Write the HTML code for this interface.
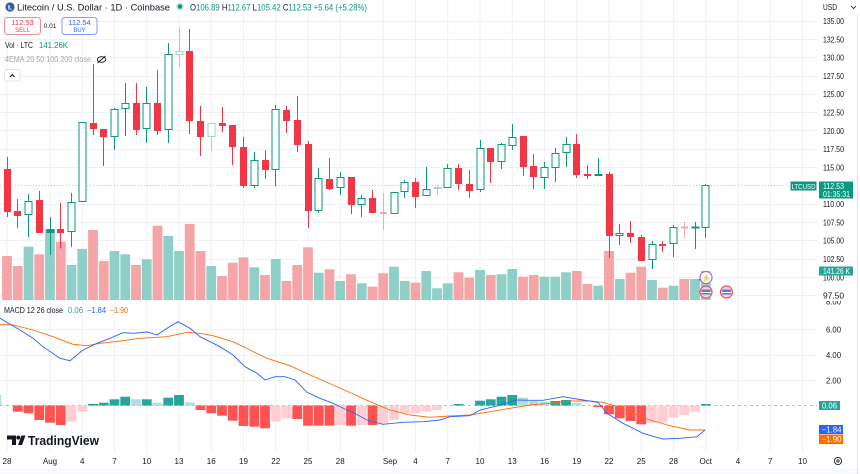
<!DOCTYPE html>
<html><head><meta charset="utf-8"><style>
html,body{margin:0;padding:0;background:#fff;}
body{width:860px;height:474px;overflow:hidden;}
svg{display:block;font-family:"Liberation Sans",sans-serif;}
</style></head><body>
<svg width="860" height="474" viewBox="0 0 860 474" xmlns="http://www.w3.org/2000/svg">
<defs><clipPath id="mp"><rect x="780" y="301" width="80" height="20"/></clipPath></defs>
<rect x="0" y="0" width="860" height="474" fill="#fff"/>
<rect x="0" y="468" width="860" height="6" fill="#f8f9fd"/>
<!-- vertical grid -->
<g stroke="#eff1f6" stroke-width="1">
<line x1="7" y1="0" x2="7" y2="453"/><line x1="50" y1="0" x2="50" y2="453"/><line x1="82.25" y1="0" x2="82.25" y2="453"/><line x1="114.5" y1="0" x2="114.5" y2="453"/><line x1="146.75" y1="0" x2="146.75" y2="453"/><line x1="179" y1="0" x2="179" y2="453"/><line x1="211.25" y1="0" x2="211.25" y2="453"/><line x1="243.5" y1="0" x2="243.5" y2="453"/><line x1="275.75" y1="0" x2="275.75" y2="453"/><line x1="308" y1="0" x2="308" y2="453"/><line x1="340.25" y1="0" x2="340.25" y2="453"/><line x1="383.25" y1="0" x2="383.25" y2="453"/><line x1="415.5" y1="0" x2="415.5" y2="453"/><line x1="447.75" y1="0" x2="447.75" y2="453"/><line x1="480" y1="0" x2="480" y2="453"/><line x1="512.25" y1="0" x2="512.25" y2="453"/><line x1="544.5" y1="0" x2="544.5" y2="453"/><line x1="576.75" y1="0" x2="576.75" y2="453"/><line x1="609" y1="0" x2="609" y2="453"/><line x1="641.25" y1="0" x2="641.25" y2="453"/><line x1="673.5" y1="0" x2="673.5" y2="453"/><line x1="705.75" y1="0" x2="705.75" y2="453"/><line x1="738" y1="0" x2="738" y2="453"/><line x1="770.25" y1="0" x2="770.25" y2="453"/><line x1="802.5" y1="0" x2="802.5" y2="453"/>
</g>
<!-- horizontal grid -->
<g stroke="#eff1f6" stroke-width="1">
<line x1="0" y1="21.5" x2="817" y2="21.5"/><line x1="0" y1="39.5" x2="817" y2="39.5"/><line x1="0" y1="57.5" x2="817" y2="57.5"/><line x1="0" y1="76.5" x2="817" y2="76.5"/><line x1="0" y1="94.5" x2="817" y2="94.5"/><line x1="0" y1="112.5" x2="817" y2="112.5"/><line x1="0" y1="130.5" x2="817" y2="130.5"/><line x1="0" y1="149.5" x2="817" y2="149.5"/><line x1="0" y1="167.5" x2="817" y2="167.5"/><line x1="0" y1="204.5" x2="817" y2="204.5"/><line x1="0" y1="222.5" x2="817" y2="222.5"/><line x1="0" y1="240.5" x2="817" y2="240.5"/><line x1="0" y1="259.5" x2="817" y2="259.5"/><line x1="0" y1="277.5" x2="817" y2="277.5"/><line x1="0" y1="295.5" x2="817" y2="295.5"/>
<line x1="0" y1="329.5" x2="817" y2="329.5"/><line x1="0" y1="355.5" x2="817" y2="355.5"/><line x1="0" y1="380.5" x2="817" y2="380.5"/>
</g>
<line x1="857.5" y1="14" x2="857.5" y2="474" stroke="#e0e3eb"/>

<!-- volume pink -->
<g fill="#f5a5a7">
<rect x="2.1" y="256" width="9.8" height="44"/><rect x="12.85" y="266" width="9.8" height="34"/><rect x="34.35" y="254.3" width="9.8" height="45.7"/><rect x="55.85" y="241.7" width="9.8" height="58.3"/><rect x="88.1" y="230" width="9.8" height="70"/><rect x="98.85" y="261" width="9.8" height="39"/><rect x="131.1" y="265" width="9.8" height="35"/><rect x="152.6" y="225.7" width="9.8" height="74.3"/><rect x="184.85" y="224" width="9.8" height="76"/><rect x="195.6" y="251" width="9.8" height="49"/><rect x="217.1" y="276" width="9.8" height="24"/><rect x="227.85" y="262.7" width="9.8" height="37.3"/><rect x="238.6" y="257.3" width="9.8" height="42.7"/><rect x="260.1" y="275" width="9.8" height="25"/><rect x="281.6" y="281" width="9.8" height="19"/><rect x="292.35" y="265" width="9.8" height="35"/><rect x="303.1" y="247.3" width="9.8" height="52.7"/><rect x="324.6" y="269.3" width="9.8" height="30.7"/><rect x="346.1" y="274.3" width="9.8" height="25.7"/><rect x="367.6" y="286.7" width="9.8" height="13.3"/><rect x="378.35" y="273.3" width="9.8" height="26.7"/><rect x="410.6" y="282.7" width="9.8" height="17.3"/><rect x="453.6" y="272.3" width="9.8" height="27.7"/><rect x="464.35" y="277.7" width="9.8" height="22.3"/><rect x="485.85" y="275" width="9.8" height="25"/><rect x="518.1" y="276.7" width="9.8" height="23.3"/><rect x="528.85" y="275" width="9.8" height="25"/><rect x="571.85" y="271" width="9.8" height="29"/><rect x="582.6" y="284" width="9.8" height="16"/><rect x="604.1" y="251" width="9.8" height="49"/><rect x="625.6" y="272.7" width="9.8" height="27.3"/><rect x="636.35" y="266.7" width="9.8" height="33.3"/><rect x="657.85" y="287.7" width="9.8" height="12.3"/><rect x="679.35" y="279" width="9.8" height="21"/>
</g>
<!-- volume teal -->
<g fill="#8ed0c8">
<rect x="23.6" y="246.7" width="9.8" height="53.3"/><rect x="45.1" y="229.3" width="9.8" height="70.7"/><rect x="66.6" y="265" width="9.8" height="35"/><rect x="77.35" y="249" width="9.8" height="51"/><rect x="109.6" y="251" width="9.8" height="49"/><rect x="120.35" y="254.3" width="9.8" height="45.7"/><rect x="141.85" y="259.3" width="9.8" height="40.7"/><rect x="163.35" y="236" width="9.8" height="64"/><rect x="174.1" y="251" width="9.8" height="49"/><rect x="206.35" y="266" width="9.8" height="34"/><rect x="249.35" y="267.3" width="9.8" height="32.7"/><rect x="270.85" y="259" width="9.8" height="41"/><rect x="313.85" y="272.7" width="9.8" height="27.3"/><rect x="335.35" y="281" width="9.8" height="19"/><rect x="356.85" y="283.3" width="9.8" height="16.7"/><rect x="389.1" y="266.7" width="9.8" height="33.3"/><rect x="399.85" y="281" width="9.8" height="19"/><rect x="421.35" y="271" width="9.8" height="29"/><rect x="432.1" y="288.3" width="9.8" height="11.7"/><rect x="442.85" y="283.3" width="9.8" height="16.7"/><rect x="475.1" y="270" width="9.8" height="30"/><rect x="496.6" y="274.3" width="9.8" height="25.7"/><rect x="507.35" y="269" width="9.8" height="31"/><rect x="539.6" y="276.7" width="9.8" height="23.3"/><rect x="550.35" y="276.7" width="9.8" height="23.3"/><rect x="561.1" y="272.3" width="9.8" height="27.7"/><rect x="593.35" y="285.7" width="9.8" height="14.3"/><rect x="614.85" y="279" width="9.8" height="21"/><rect x="647.1" y="280" width="9.8" height="20"/><rect x="668.6" y="285.7" width="9.8" height="14.3"/><rect x="690.1" y="279" width="9.8" height="21"/><rect x="700.85" y="271" width="9.8" height="29"/>
</g>

<!-- price line -->
<line x1="0" y1="185.5" x2="789" y2="185.5" stroke="#c3c6cc" stroke-width="1" stroke-dasharray="1 2"/>

<!-- down candles -->
<g stroke="#f23645" fill="#f23645" stroke-width="1">
<line x1="7.5" y1="157" x2="7.5" y2="217"/><rect x="4" y="169" width="7" height="43" stroke="none"/>
<line x1="17.5" y1="199" x2="17.5" y2="228"/><rect x="14" y="211" width="7" height="5" stroke="none"/>
<line x1="39.5" y1="191" x2="39.5" y2="233"/><rect x="36" y="200" width="7" height="33" stroke="none"/>
<line x1="60.5" y1="203" x2="60.5" y2="248"/><rect x="57" y="229" width="7" height="4" stroke="none"/>
<line x1="93.5" y1="64" x2="93.5" y2="135"/><rect x="90" y="123" width="7" height="6" stroke="none"/>
<line x1="103.5" y1="129" x2="103.5" y2="166"/><rect x="100" y="129" width="7" height="8" stroke="none"/>
<line x1="136.5" y1="83" x2="136.5" y2="135"/><rect x="133" y="103" width="7" height="27" stroke="none"/>
<line x1="157.5" y1="70" x2="157.5" y2="135"/><rect x="154" y="103" width="7" height="28" stroke="none"/>
<line x1="189.5" y1="29" x2="189.5" y2="134"/><rect x="186" y="51" width="7" height="70" stroke="none"/>
<line x1="200.5" y1="106" x2="200.5" y2="156"/><rect x="197" y="121" width="7" height="16" stroke="none"/>
<line x1="222.5" y1="107" x2="222.5" y2="132"/><rect x="219" y="123" width="7" height="3" stroke="none"/>
<line x1="232.5" y1="125" x2="232.5" y2="165"/><rect x="229" y="125" width="7" height="22" stroke="none"/>
<line x1="243.5" y1="137" x2="243.5" y2="188"/><rect x="240" y="147" width="7" height="39" stroke="none"/>
<line x1="265.5" y1="150" x2="265.5" y2="179"/><rect x="262" y="160" width="7" height="10" stroke="none"/>
<line x1="286.5" y1="106" x2="286.5" y2="133"/><rect x="283" y="110" width="7" height="11" stroke="none"/>
<line x1="297.5" y1="96" x2="297.5" y2="152"/><rect x="294" y="120" width="7" height="25" stroke="none"/>
<line x1="308.5" y1="141" x2="308.5" y2="228"/><rect x="305" y="144" width="7" height="67" stroke="none"/>
<line x1="329.5" y1="158" x2="329.5" y2="190"/><rect x="326" y="179" width="7" height="10" stroke="none"/>
<line x1="351.5" y1="177" x2="351.5" y2="214"/><rect x="348" y="177" width="7" height="28" stroke="none"/>
<line x1="372.5" y1="190" x2="372.5" y2="213"/><rect x="369" y="198" width="7" height="15" stroke="none"/>
<line x1="415.5" y1="178" x2="415.5" y2="208"/><rect x="412" y="182" width="7" height="15" stroke="none"/>
<line x1="458.5" y1="164" x2="458.5" y2="190"/><rect x="455" y="168" width="7" height="16" stroke="none"/>
<line x1="469.5" y1="170" x2="469.5" y2="198"/><rect x="466" y="184" width="7" height="7" stroke="none"/>
<line x1="490.5" y1="148" x2="490.5" y2="183"/><rect x="487" y="148" width="7" height="14" stroke="none"/>
<line x1="523.5" y1="136" x2="523.5" y2="176"/><rect x="520" y="136" width="7" height="31" stroke="none"/>
<line x1="533.5" y1="154" x2="533.5" y2="189"/><rect x="530" y="166" width="7" height="11" stroke="none"/>
<line x1="576.5" y1="134" x2="576.5" y2="178"/><rect x="573" y="144" width="7" height="31" stroke="none"/>
<line x1="587.5" y1="165" x2="587.5" y2="179"/><rect x="584" y="174" width="7" height="2" stroke="none"/>
<line x1="609.5" y1="172" x2="609.5" y2="258"/><rect x="606" y="174" width="7" height="62" stroke="none"/>
<line x1="630.5" y1="221" x2="630.5" y2="243"/><rect x="627" y="233" width="7" height="4" stroke="none"/>
<line x1="641.5" y1="235" x2="641.5" y2="261"/><rect x="638" y="237" width="7" height="24" stroke="none"/>
<line x1="662.5" y1="241" x2="662.5" y2="252"/><rect x="659" y="244" width="7" height="2" stroke="none"/>
</g>
<g stroke="#f7a7ad" fill="#f7a7ad" stroke-width="1">
<line x1="383.5" y1="193" x2="383.5" y2="230"/><rect x="380" y="212" width="7" height="2" stroke="none"/>
<line x1="684.5" y1="222" x2="684.5" y2="238"/><rect x="681" y="226.5" width="7" height="2" stroke="none"/>
</g>
<!-- up candles -->
<g stroke="#089981" fill="#fff" stroke-width="1">
<line x1="28.5" y1="194" x2="28.5" y2="237"/><rect x="25" y="201.5" width="7" height="13"/>
<line x1="50.5" y1="217" x2="50.5" y2="255"/><rect x="47" y="229.5" width="7" height="3" fill="#089981"/>
<line x1="71.5" y1="193" x2="71.5" y2="247"/><rect x="68" y="202.5" width="7" height="29"/>
<line x1="82.5" y1="122" x2="82.5" y2="202"/><rect x="79" y="122.5" width="7" height="79"/>
<line x1="114.5" y1="108" x2="114.5" y2="150"/><rect x="111" y="109.5" width="7" height="27"/>
<line x1="125.5" y1="83" x2="125.5" y2="136"/><rect x="122" y="103.5" width="7" height="5"/>
<line x1="146.5" y1="87" x2="146.5" y2="143"/><rect x="143" y="103.5" width="7" height="25"/>
<line x1="168.5" y1="43" x2="168.5" y2="143"/><rect x="165" y="54.5" width="7" height="75"/>
<line x1="254.5" y1="152" x2="254.5" y2="188"/><rect x="251" y="160.5" width="7" height="25"/>
<line x1="275.5" y1="105" x2="275.5" y2="186"/><rect x="272" y="109.5" width="7" height="60"/>
<line x1="318.5" y1="168" x2="318.5" y2="213"/><rect x="315" y="178.5" width="7" height="32"/>
<line x1="340.5" y1="172" x2="340.5" y2="195"/><rect x="337" y="177.5" width="7" height="10"/>
<line x1="361.5" y1="195" x2="361.5" y2="217"/><rect x="358" y="198.5" width="7" height="6"/>
<line x1="394.5" y1="192" x2="394.5" y2="214"/><rect x="391" y="192.5" width="7" height="21"/>
<line x1="404.5" y1="180" x2="404.5" y2="198"/><rect x="401" y="182.5" width="7" height="9"/>
<line x1="426.5" y1="167" x2="426.5" y2="196"/><rect x="423" y="189.5" width="7" height="6"/>
<line x1="447.5" y1="164" x2="447.5" y2="188"/><rect x="444" y="168.5" width="7" height="19"/>
<line x1="480.5" y1="140" x2="480.5" y2="192"/><rect x="477" y="148.5" width="7" height="41"/>
<line x1="501.5" y1="143" x2="501.5" y2="169"/><rect x="498" y="144.5" width="7" height="17"/>
<line x1="512.5" y1="124" x2="512.5" y2="150"/><rect x="509" y="137.5" width="7" height="8"/>
<line x1="544.5" y1="162" x2="544.5" y2="189"/><rect x="541" y="167.5" width="7" height="10"/>
<line x1="555.5" y1="148" x2="555.5" y2="182"/><rect x="552" y="153.5" width="7" height="14"/>
<line x1="566.5" y1="137" x2="566.5" y2="167"/><rect x="563" y="144.5" width="7" height="8"/>
<line x1="598.5" y1="158" x2="598.5" y2="176"/><rect x="595" y="174.5" width="7" height="1" fill="#089981"/>
<line x1="619.5" y1="224" x2="619.5" y2="245"/><rect x="616" y="233.5" width="7" height="2"/>
<line x1="652.5" y1="241" x2="652.5" y2="269"/><rect x="649" y="244.5" width="7" height="15"/>
<line x1="673.5" y1="225" x2="673.5" y2="257"/><rect x="670" y="227.5" width="7" height="16"/>
<line x1="695.5" y1="222" x2="695.5" y2="249"/><rect x="692" y="227" width="7" height="1" fill="#089981"/>
<line x1="705.5" y1="184" x2="705.5" y2="238"/><rect x="702" y="185.5" width="7" height="42"/>
</g>
<g stroke="#9fd6cc" fill="#fff" stroke-width="1">
<line x1="179.5" y1="27" x2="179.5" y2="67"/><rect x="176" y="51.5" width="7" height="3"/>
<line x1="211.5" y1="123" x2="211.5" y2="151"/><rect x="208" y="123.5" width="7" height="13"/>
<line x1="437.5" y1="185" x2="437.5" y2="195"/><rect x="434" y="187.5" width="7" height="1" fill="#9fd6cc"/>
</g>

<!-- events icons -->
<circle cx="706" cy="277.5" r="6" fill="#fff" stroke="#9c6ade" stroke-width="1.2"/>
<text x="706" y="280.5" font-size="8" fill="#7b3fe4" text-anchor="middle">⚡</text>
<text x="700" y="282" font-size="6" fill="#7b3fe4" text-anchor="middle">+</text>
<circle cx="706" cy="292" r="6" fill="#f6d2d6" stroke="#e8525f" stroke-width="1.2"/>
<rect x="701.5" y="289.5" width="9" height="5" fill="#5b7bd5"/><rect x="701.5" y="292" width="9" height="1" fill="#fff"/>
<circle cx="726.5" cy="292" r="6" fill="#f6d2d6" stroke="#e8525f" stroke-width="1.2"/>
<rect x="722" y="289.5" width="9" height="5" fill="#5b7bd5"/><rect x="722" y="292" width="9" height="1" fill="#fff"/>

<!-- MACD histogram -->
<line x1="0" y1="405.5" x2="817" y2="405.5" stroke="#b8bbc3" stroke-width="1" stroke-dasharray="3 3"/>
<g fill="#26a69a">
<rect x="88.1" y="404" width="9.8" height="1.5"/><rect x="98.85" y="402.7" width="9.8" height="2.8"/><rect x="109.6" y="399.3" width="9.8" height="6.2"/><rect x="120.35" y="396.7" width="9.8" height="8.8"/><rect x="141.85" y="399.3" width="9.8" height="6.2"/><rect x="163.35" y="397.7" width="9.8" height="7.8"/><rect x="174.1" y="395" width="9.8" height="10.5"/><rect x="453.6" y="404" width="9.8" height="1.5"/><rect x="475.1" y="400.7" width="9.8" height="4.8"/><rect x="485.85" y="399.3" width="9.8" height="6.2"/><rect x="496.6" y="396.7" width="9.8" height="8.8"/><rect x="507.35" y="395" width="9.8" height="10.5"/><rect x="550.35" y="401" width="9.8" height="4.5"/><rect x="561.1" y="400" width="9.8" height="5.5"/><rect x="700.85" y="404" width="9.8" height="1.5"/>
</g>
<g fill="#b2dfdb">
<rect x="-8.65" y="395" width="9.8" height="10.5"/><rect x="131.1" y="399.3" width="9.8" height="6.2"/><rect x="152.6" y="402.7" width="9.8" height="2.8"/><rect x="184.85" y="402.3" width="9.8" height="3.2"/><rect x="518.1" y="397.7" width="9.8" height="7.8"/><rect x="528.85" y="401" width="9.8" height="4.5"/><rect x="539.6" y="401.7" width="9.8" height="3.8"/><rect x="571.85" y="402.7" width="9.8" height="2.8"/>
</g>
<g fill="#ff5252">
<rect x="12.85" y="405.5" width="9.8" height="6.2"/><rect x="23.6" y="405.5" width="9.8" height="7.8"/><rect x="34.35" y="405.5" width="9.8" height="14.5"/><rect x="45.1" y="405.5" width="9.8" height="17.2"/><rect x="55.85" y="405.5" width="9.8" height="19.5"/><rect x="195.6" y="405.5" width="9.8" height="4.5"/><rect x="206.35" y="405.5" width="9.8" height="7.8"/><rect x="217.1" y="405.5" width="9.8" height="10.2"/><rect x="227.85" y="405.5" width="9.8" height="15.2"/><rect x="238.6" y="405.5" width="9.8" height="20.5"/><rect x="249.35" y="405.5" width="9.8" height="21.2"/><rect x="260.1" y="405.5" width="9.8" height="22.8"/><rect x="292.35" y="405.5" width="9.8" height="13.5"/><rect x="303.1" y="405.5" width="9.8" height="20.2"/><rect x="313.85" y="405.5" width="9.8" height="20.2"/><rect x="324.6" y="405.5" width="9.8" height="20.2"/><rect x="346.1" y="405.5" width="9.8" height="20.2"/><rect x="367.6" y="405.5" width="9.8" height="19.5"/><rect x="593.35" y="405.5" width="9.8" height="1.5"/><rect x="604.1" y="405.5" width="9.8" height="8.8"/><rect x="614.85" y="405.5" width="9.8" height="12.8"/><rect x="625.6" y="405.5" width="9.8" height="15.5"/><rect x="636.35" y="405.5" width="9.8" height="18.8"/>
</g>
<g fill="#ffcdd2">
<rect x="66.6" y="405.5" width="9.8" height="16.2"/><rect x="77.35" y="405.5" width="9.8" height="6.2"/><rect x="270.85" y="405.5" width="9.8" height="16.2"/><rect x="281.6" y="405.5" width="9.8" height="12.8"/><rect x="335.35" y="405.5" width="9.8" height="19.5"/><rect x="356.85" y="405.5" width="9.8" height="19.5"/><rect x="378.35" y="405.5" width="9.8" height="17.8"/><rect x="389.1" y="405.5" width="9.8" height="14.5"/><rect x="399.85" y="405.5" width="9.8" height="7.8"/><rect x="410.6" y="405.5" width="9.8" height="7.8"/><rect x="421.35" y="405.5" width="9.8" height="6.2"/><rect x="432.1" y="405.5" width="9.8" height="4.5"/><rect x="647.1" y="405.5" width="9.8" height="17.2"/><rect x="657.85" y="405.5" width="9.8" height="16.8"/><rect x="668.6" y="405.5" width="9.8" height="12.2"/><rect x="679.35" y="405.5" width="9.8" height="9.5"/><rect x="690.1" y="405.5" width="9.8" height="6.2"/>
</g>
<!-- MACD lines -->
<polyline fill="none" stroke="#ff6d00" stroke-width="0.9" points="0,324.3 13,325 33,330 53,336.7 73,344.3 87,345.7 100,343.3 120,341 140,338.3 167,336.7 187,332.3 200,333.3 213,335.7 233,341.7 250,350 267,358.3 290,365.7 310,375 333,385 350,392.5 370,401.7 390,410 410,415 430,417.3 450,416 470,415 490,411.7 510,408.3 530,405 550,403.3 570,401 590,401 603,402.3 617,406.7 633,413.3 650,420 670,425.7 690,430 705,430"/>
<polyline fill="none" stroke="#2962ff" stroke-width="0.9" points="0,318.3 20,330 33,338.3 43,346.7 60,358.3 70,360.7 83,350 97,343.3 110,338.3 123,332.7 133,333.3 147,332 157,335 167,328.3 178,321.7 190,328.3 200,336.7 220,346.7 233,355 245,366.7 257,373.3 265,380 275,376.7 285,376.7 295,380 307,392.3 320,398.3 333,403.3 347,410 355,413.5 367,420 383,424.3 403,422.3 423,421.7 440,420 450,416.7 470,415.7 480,410 497,406 517,400 530,400.3 543,400.3 563,396.7 583,400 598,402.3 607,413.3 623,423.3 643,433.3 663,439 680,438.3 697,436.7 705,430"/>

<!-- header -->
<circle cx="10" cy="7" r="4.6" fill="#345d9d"/>
<text x="10" y="9.6" font-size="6.5" fill="#fff" text-anchor="middle" font-weight="bold">Ł</text>
<text x="17" y="10.5" font-size="9.5" fill="#131722" textLength="153" lengthAdjust="spacingAndGlyphs">Litecoin / U.S. Dollar · 1D · Coinbase</text>
<circle cx="180" cy="6.5" r="4" fill="#c9ece5"/>
<circle cx="180" cy="6.5" r="2.3" fill="#089981"/>
<text x="190" y="10.5" font-size="9.5" fill="#089981" textLength="177" lengthAdjust="spacingAndGlyphs"><tspan fill="#131722">O</tspan>106.89 <tspan fill="#131722">H</tspan>112.67 <tspan fill="#131722">L</tspan>105.42 <tspan fill="#131722">C</tspan>112.53 +5.64 (+5.28%)</text>
<rect x="4.5" y="17.5" width="36" height="17" rx="3" fill="#fff" stroke="#f08a93"/>
<text x="22.5" y="25" font-size="7.5" fill="#f23645" text-anchor="middle">112.53</text>
<text x="22.5" y="32" font-size="6" fill="#f23645" text-anchor="middle">SELL</text>
<text x="50" y="28" font-size="6.5" fill="#131722" text-anchor="middle">0.01</text>
<rect x="62" y="17.5" width="35" height="17" rx="3" fill="#fff" stroke="#7f9cf5"/>
<text x="79.5" y="25" font-size="7.5" fill="#2962ff" text-anchor="middle">112.54</text>
<text x="79.5" y="32" font-size="6" fill="#2962ff" text-anchor="middle">BUY</text>
<text x="5" y="48" font-size="8" fill="#131722" textLength="28" lengthAdjust="spacingAndGlyphs">Vol · LTC</text>
<text x="39" y="48" font-size="8" fill="#089981" textLength="29" lengthAdjust="spacingAndGlyphs">141.26K</text>
<text x="5" y="62" font-size="8" fill="#a3a6af" textLength="86" lengthAdjust="spacingAndGlyphs">4EMA 20 50 100 200 close</text>
<ellipse cx="101.5" cy="59.5" rx="4.2" ry="2.8" fill="none" stroke="#131722" stroke-width="0.9"/>
<line x1="97.5" y1="63" x2="105.5" y2="56" stroke="#131722" stroke-width="0.9"/>
<rect x="4.5" y="69.5" width="15.5" height="11.5" rx="2" fill="#fff" stroke="#e0e3eb"/>
<polyline points="10,77 12.25,74.5 14.5,77" fill="none" stroke="#131722" stroke-width="1"/>

<!-- MACD legend -->
<text x="4" y="313" font-size="8" fill="#131722" textLength="59" lengthAdjust="spacingAndGlyphs">MACD 12 26 close</text>
<text x="68" y="313" font-size="8" fill="#26a69a" textLength="15" lengthAdjust="spacingAndGlyphs">0.06</text>
<text x="87" y="313" font-size="8" fill="#2962ff" textLength="19" lengthAdjust="spacingAndGlyphs">−1.84</text>
<text x="110" y="313" font-size="8" fill="#ff6d00" textLength="18" lengthAdjust="spacingAndGlyphs">−1.90</text>

<!-- TradingView logo -->
<path d="M7,435.5 h9 v9.5 h-4 v-5.5 h-5 z" fill="#131722"/>
<circle cx="18.3" cy="437.6" r="2" fill="#131722"/>
<path d="M18,445 L21.5,435.5 H25.5 L22,445 Z" fill="#131722"/>
<text x="28" y="445" font-size="13" font-weight="bold" fill="#131722" textLength="71" lengthAdjust="spacingAndGlyphs">TradingView</text>

<!-- price axis -->
<g font-size="8.5" fill="#131722">
<text x="823" y="10" textLength="14" lengthAdjust="spacingAndGlyphs">USD</text>
<text x="823" y="24" textLength="21" lengthAdjust="spacingAndGlyphs">135.00</text>
<text x="823" y="42.3" textLength="21" lengthAdjust="spacingAndGlyphs">132.50</text>
<text x="823" y="60.6" textLength="21" lengthAdjust="spacingAndGlyphs">130.00</text>
<text x="823" y="78.9" textLength="21" lengthAdjust="spacingAndGlyphs">127.50</text>
<text x="823" y="97.2" textLength="21" lengthAdjust="spacingAndGlyphs">125.00</text>
<text x="823" y="115.6" textLength="21" lengthAdjust="spacingAndGlyphs">122.50</text>
<text x="823" y="133.9" textLength="21" lengthAdjust="spacingAndGlyphs">120.00</text>
<text x="823" y="152.2" textLength="21" lengthAdjust="spacingAndGlyphs">117.50</text>
<text x="823" y="170.5" textLength="21" lengthAdjust="spacingAndGlyphs">115.00</text>
<text x="823" y="207.1" textLength="21" lengthAdjust="spacingAndGlyphs">110.00</text>
<text x="823" y="225.4" textLength="21" lengthAdjust="spacingAndGlyphs">107.50</text>
<text x="823" y="243.7" textLength="21" lengthAdjust="spacingAndGlyphs">105.00</text>
<text x="823" y="262" textLength="21" lengthAdjust="spacingAndGlyphs">102.50</text>
<text x="823" y="280.3" textLength="21" lengthAdjust="spacingAndGlyphs">100.00</text>
<text x="823" y="298.7" textLength="21" lengthAdjust="spacingAndGlyphs">97.50</text>
<text x="826" y="304.5" textLength="15" lengthAdjust="spacingAndGlyphs" clip-path="url(#mp)">8.00</text>
<text x="826" y="332.5" textLength="15" lengthAdjust="spacingAndGlyphs">6.00</text>
<text x="826" y="358" textLength="15" lengthAdjust="spacingAndGlyphs">4.00</text>
<text x="826" y="383.5" textLength="15" lengthAdjust="spacingAndGlyphs">2.00</text>
</g>
<polyline points="851,6 853.5,8.5 856,6" fill="none" stroke="#131722" stroke-width="0.8"/>
<!-- badges -->
<rect x="790.5" y="181.5" width="26" height="9" fill="#089981"/>
<text x="803.5" y="189" font-size="7.5" fill="#fff" text-anchor="middle" textLength="24" lengthAdjust="spacingAndGlyphs">LTCUSD</text>
<rect x="819" y="181.5" width="34" height="17" fill="#089981"/>
<text x="823" y="189" font-size="8" fill="#fff" textLength="21" lengthAdjust="spacingAndGlyphs">112.53</text>
<text x="823" y="197" font-size="8" fill="#fff" textLength="27" lengthAdjust="spacingAndGlyphs">01:35:31</text>
<rect x="819" y="266.5" width="34" height="9" fill="#26a69a"/>
<text x="823" y="274" font-size="8" fill="#fff" textLength="27" lengthAdjust="spacingAndGlyphs">141.26 K</text>
<rect x="819" y="401" width="21" height="9" fill="#26a69a"/>
<text x="822" y="408.5" font-size="8" fill="#fff" textLength="15" lengthAdjust="spacingAndGlyphs">0.06</text>
<rect x="819" y="425" width="24" height="9" fill="#2962ff"/>
<text x="821.5" y="432.5" font-size="8" fill="#fff" textLength="20" lengthAdjust="spacingAndGlyphs">−1.84</text>
<rect x="819" y="434.5" width="24" height="9.5" fill="#ff6d00"/>
<text x="821.5" y="442" font-size="8" fill="#fff" textLength="20" lengthAdjust="spacingAndGlyphs">−1.90</text>

<!-- time axis -->
<g font-size="8" fill="#131722" text-anchor="middle">
<text x="7" y="464">28</text><text x="50" y="464">Aug</text><text x="82.25" y="464">4</text><text x="114.5" y="464">7</text><text x="146.75" y="464">10</text><text x="179" y="464">13</text><text x="211.25" y="464">16</text><text x="243.5" y="464">19</text><text x="275.75" y="464">22</text><text x="308" y="464">25</text><text x="340.25" y="464">28</text><text x="390" y="464">Sep</text><text x="415.5" y="464">4</text><text x="447.75" y="464">7</text><text x="480" y="464">10</text><text x="512.25" y="464">13</text><text x="544.5" y="464">16</text><text x="576.75" y="464">19</text><text x="609" y="464">22</text><text x="641.25" y="464">25</text><text x="673.5" y="464">28</text><text x="705.75" y="464">Oct</text><text x="738" y="464">4</text><text x="770.25" y="464">7</text><text x="802.5" y="464">10</text>
</g>
<circle cx="838" cy="461" r="3.6" fill="none" stroke="#131722" stroke-width="0.9"/>
<circle cx="838" cy="461" r="1.2" fill="none" stroke="#131722" stroke-width="0.8"/>
</svg>
</body></html>
